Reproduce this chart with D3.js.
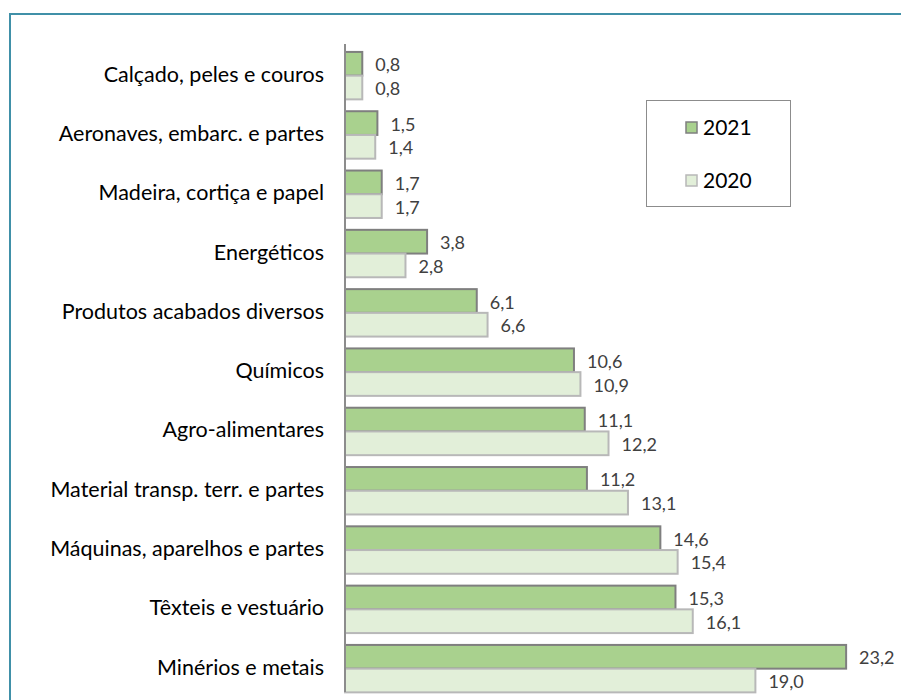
<!DOCTYPE html>
<html>
<head>
<meta charset="utf-8">
<script src="https://cdn.jsdelivr.net/npm/d3@7"></script>
<style>
  body { margin: 0; background: #fff; }
  svg { display: block; }
</style>
</head>
<body>
<div id="chart"></div>
<script>
var width = 901;
var height = 700;

var categories = [
  "Calçado, peles e couros",
  "Aeronaves, embarc. e partes",
  "Madeira, cortiça e papel",
  "Energéticos",
  "Produtos acabados diversos",
  "Químicos",
  "Agro-alimentares",
  "Material transp. terr. e partes",
  "Máquinas, aparelhos e partes",
  "Têxteis e vestuário",
  "Minérios e metais"
];
var values2021 = [0.8, 1.5, 1.7, 3.8, 6.1, 10.6, 11.1, 11.2, 14.6, 15.3, 23.2];
var values2020 = [0.8, 1.4, 1.7, 2.8, 6.6, 10.9, 12.2, 13.1, 15.4, 16.1, 19.0];
var seriesNames = ["2021", "2020"];

var fills = {"2021": "#a9d18e", "2020": "#e2efd9"};
var strokes = {"2021": "#7f7f7f", "2020": "#b8b8b8"};

var svg = d3.select("#chart").append("svg")
  .attr("width", width)
  .attr("height", height);

// outer frame (runs off the right and bottom edges)
svg.append("path")
  .attr("d", "M10,720 V14 H920")
  .attr("fill", "none")
  .attr("stroke", "#4090a8")
  .attr("stroke-width", 2);

var margin = {top: 44, left: 345};

var y = d3.scaleBand()
  .domain(categories)
  .range([margin.top + 2, margin.top + 2 + 59.3 * categories.length])
  .paddingInner(0.2)
  .paddingOuter(0.1);

var ySub = d3.scaleBand()
  .domain(seriesNames)
  .range([0, y.bandwidth()]);

var x = d3.scaleLinear()
  .domain([0, 10])
  .range([margin.left, margin.left + 216]);

var rows = categories.map(function(c, i) {
  return {name: c, vals: [
    {series: "2021", value: values2021[i]},
    {series: "2020", value: values2020[i]}
  ]};
});

var fmt = function(v) { return d3.format(".1f")(v).replace(".", ","); };

var groups = svg.selectAll(".cat")
  .data(rows)
  .enter().append("g")
  .attr("class", "cat")
  .attr("transform", function(d) { return "translate(0," + y(d.name) + ")"; });

groups.selectAll("rect")
  .data(function(d) { return d.vals; })
  .enter().append("rect")
  .attr("x", x(0))
  .attr("y", function(d) { return ySub(d.series); })
  .attr("width", function(d) { return x(d.value) - x(0); })
  .attr("height", ySub.bandwidth())
  .attr("fill", function(d) { return fills[d.series]; })
  .attr("stroke", function(d) { return strokes[d.series]; })
  .attr("stroke-width", 2);

groups.selectAll(".val")
  .data(function(d) { return d.vals; })
  .enter().append("text")
  .attr("class", "val")
  .attr("x", function(d) { return x(d.value) + 13; })
  .attr("y", function(d) { return ySub(d.series) + ySub.bandwidth() / 2; })
  .attr("dy", "0.42em")
  .style("font-family", "Lato, 'Open Sans', sans-serif")
  .style("font-size", "18px")
  .style("fill", "#404040")
  .text(function(d) { return fmt(d.value); });

// category axis
var yAxis = d3.axisLeft(y).tickSize(0).tickPadding(21);
var axisG = svg.append("g")
  .attr("transform", "translate(" + margin.left + ",0)")
  .call(yAxis);
axisG.select(".domain").remove();
axisG.selectAll("text")
  .attr("dy", "0.28em")
  .style("font-family", "Lato, 'Open Sans', sans-serif")
  .style("font-size", "21.5px")
  .style("fill", "#000");

svg.append("line")
  .attr("x1", margin.left).attr("x2", margin.left)
  .attr("y1", margin.top).attr("y2", 692)
  .attr("stroke", "#8c8c8c")
  .attr("stroke-width", 2);

// legend
var legend = svg.append("g");
legend.append("rect")
  .attr("x", 646.5).attr("y", 100.5)
  .attr("width", 144).attr("height", 106)
  .attr("fill", "#fff")
  .attr("stroke", "#8c8c8c")
  .attr("stroke-width", 1);

var legendY = d3.scalePoint()
  .domain(seriesNames)
  .range([128, 181]);

var items = legend.selectAll(".item")
  .data(seriesNames)
  .enter().append("g")
  .attr("transform", function(d) { return "translate(0," + legendY(d) + ")"; });
items.append("rect")
  .attr("x", 686).attr("y", -6)
  .attr("width", 11).attr("height", 11)
  .attr("fill", function(d) { return fills[d]; })
  .attr("stroke", function(d) { return strokes[d]; })
  .attr("stroke-width", 1.5);
items.append("text")
  .attr("x", 703)
  .attr("dy", "0.33em")
  .style("font-family", "Lato, 'Open Sans', sans-serif")
  .style("font-size", "21px")
  .style("fill", "#000")
  .text(function(d) { return d; });
</script>
</body>
</html>
